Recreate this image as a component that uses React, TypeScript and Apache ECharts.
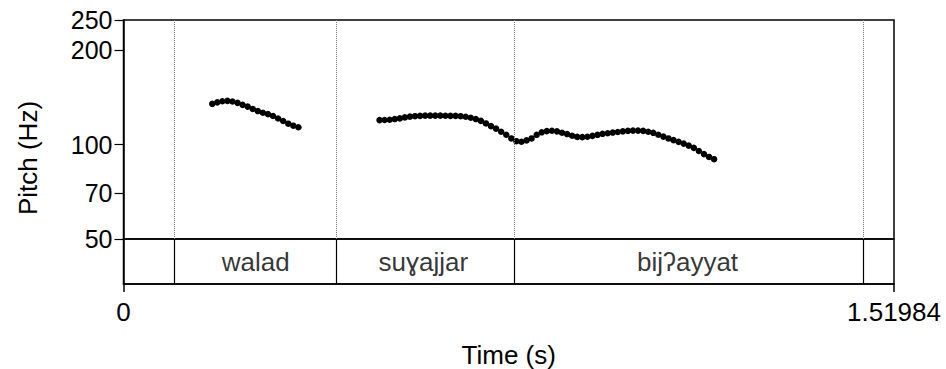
import React, { useEffect, useRef } from "react";
import * as echarts from "echarts";

const TOTAL_DURATION = 1.51984;
const PITCH_MIN = 50;
const PITCH_MAX = 250;
const PITCH_TICKS = [50, 70, 100, 200, 250];
const TIME_TICKS = [0, 1.51984];
const TIME_TICK_LABELS = ["0", "1.51984"];
const WORD_BOUNDARIES = [0.1045, 0.417, 0.766, 1.459];
const WORDS = ["walad", "suɣajjar", "bijʔayyat"];
const WORD_STARTS = [0.1045, 0.417, 0.766];
const WORD_ENDS = [0.417, 0.766, 1.459];

// pitch contour, segment 1 (walad)
const SEG1_TIMES = [
  0.175, 0.185, 0.195, 0.205, 0.215, 0.225, 0.235, 0.245, 0.255, 0.265, 0.275,
  0.285, 0.295, 0.305, 0.315, 0.325, 0.335, 0.345,
];
const SEG1_HZ = [
  135, 136.5, 137.6, 138, 137.3, 136, 134, 132.3, 130, 128, 126.5, 125.2, 123.5,
  121.2, 119, 116.7, 115, 113.7,
];

// pitch contour, segment 2 (suɣajjar + bijʔayyat)
const SEG2_TIMES = [
  0.505, 0.515, 0.525, 0.535, 0.545, 0.555, 0.565, 0.575, 0.585, 0.595, 0.605,
  0.615, 0.625, 0.635, 0.645, 0.655, 0.665, 0.675, 0.685, 0.695, 0.705, 0.715,
  0.725, 0.735, 0.745, 0.755, 0.765, 0.775, 0.785, 0.795, 0.805, 0.815, 0.825,
  0.835, 0.845, 0.855, 0.865, 0.875, 0.885, 0.895, 0.905, 0.915, 0.925, 0.935,
  0.945, 0.955, 0.965, 0.975, 0.985, 0.995, 1.005, 1.015, 1.025, 1.035, 1.045,
  1.055, 1.065, 1.075, 1.085, 1.095, 1.105, 1.115, 1.125, 1.135, 1.145, 1.155,
  1.165,
];
const SEG2_HZ = [
  119.8, 119.9, 120.1, 120.7, 121.3, 122.2, 122.9, 123.3, 123.6, 123.8, 123.8,
  123.8, 123.8, 123.7, 123.6, 123.6, 123.3, 122.8, 121.9, 120.7, 119.1, 116.9,
  114.6, 112.5, 110.0, 107.6, 104.7, 102.6, 102.2, 103.2, 104.7, 107.5, 109.5,
  110.5, 110.8, 110.3, 109.2, 108.1, 106.8, 105.9, 105.7, 106.0, 106.7, 107.5,
  108.3, 108.8, 109.3, 109.8, 110.3, 110.7, 110.9, 110.9, 110.7, 110.0, 109.1,
  107.6, 106.1, 104.7, 103.4, 102.1, 100.8, 99.3, 97.7, 95.5, 93.3, 91.4, 89.9,
];

const FONT = "'Liberation Sans', Arial, Helvetica, sans-serif";

export default function App() {
  const ref = useRef<HTMLDivElement>(null);

  useEffect(() => {
    document.body.style.margin = "0";
    if (!ref.current) return;
    const chart = echarts.init(ref.current, undefined, { renderer: "svg" });

    const pitchData = [
      ...SEG1_TIMES.map((t, i) => [t, SEG1_HZ[i]]),
      ...SEG2_TIMES.map((t, i) => [t, SEG2_HZ[i]]),
    ];

    const wordData = WORDS.map((w, i) => ({
      value: [(WORD_STARTS[i] + WORD_ENDS[i]) / 2, 0.5],
      name: w,
    }));

    const left = 123.5;
    const width = 770.5;

    chart.setOption({
      animation: false,
      backgroundColor: "#fff",
      textStyle: { fontFamily: FONT },
      grid: [
        {
          left,
          top: 20,
          width,
          height: 219,
          show: true,
          borderColor: "#000",
          borderWidth: 1.5,
          containLabel: false,
        },
        {
          left,
          top: 239,
          width,
          height: 55,
          show: true,
          borderColor: "#000",
          borderWidth: 1.5,
          containLabel: false,
        },
      ],
      xAxis: [
        {
          gridIndex: 0,
          type: "value",
          min: 0,
          max: TOTAL_DURATION,
          show: false,
        },
        {
          gridIndex: 1,
          type: "value",
          min: 0,
          max: TOTAL_DURATION,
          position: "bottom",
          axisLine: { show: true, lineStyle: { color: "#000", width: 1.5 } },
          axisTick: {
            show: true,
            length: 8,
            customValues: TIME_TICKS,
            lineStyle: { color: "#000", width: 1.5 },
          },
          axisLabel: {
            show: true,
            customValues: TIME_TICKS,
            formatter: (v: number) =>
              TIME_TICK_LABELS[TIME_TICKS.findIndex((t) => Math.abs(t - v) < 1e-6)] ?? "",
            fontSize: 26,
            color: "#000",
            fontFamily: FONT,
            margin: 15,
          },
          splitLine: { show: false },
          name: "Time (s)",
          nameLocation: "middle",
          nameGap: 58,
          nameTextStyle: { fontSize: 26, color: "#000", fontFamily: FONT },
        },
      ],
      yAxis: [
        {
          gridIndex: 0,
          type: "log",
          logBase: 10,
          min: PITCH_MIN,
          max: PITCH_MAX,
          axisLine: { show: true, lineStyle: { color: "#000", width: 1.5 } },
          axisTick: {
            show: true,
            length: 9,
            customValues: PITCH_TICKS,
            lineStyle: { color: "#000", width: 1.2 },
          },
          axisLabel: {
            show: true,
            customValues: PITCH_TICKS,
            fontSize: 25,
            color: "#000",
            fontFamily: FONT,
            margin: 11,
          },
          splitLine: { show: false },
        },
        {
          gridIndex: 1,
          type: "value",
          min: 0,
          max: 1,
          show: true,
          axisLine: { show: true, lineStyle: { color: "#000", width: 1.5 } },
          axisTick: { show: false },
          axisLabel: { show: false },
          splitLine: { show: false },
        },
      ],
      graphic: [
        {
          type: "text",
          x: 28,
          y: 158,
          rotation: Math.PI / 2,
          style: {
            text: "Pitch (Hz)",
            fontSize: 26,
            fontFamily: FONT,
            fill: "#000",
            align: "center",
            verticalAlign: "middle",
          },
        },
      ],
      series: [
        {
          type: "scatter",
          xAxisIndex: 0,
          yAxisIndex: 0,
          data: pitchData,
          symbol: "circle",
          symbolSize: 6.5,
          itemStyle: { color: "#000", opacity: 1 },
          silent: true,
          markLine: {
            silent: true,
            symbol: "none",
            label: { show: false },
            lineStyle: { type: "dotted", color: "#777", width: 1 },
            data: WORD_BOUNDARIES.map((b) => ({ xAxis: b })),
          },
        },
        {
          type: "scatter",
          xAxisIndex: 1,
          yAxisIndex: 1,
          data: wordData,
          symbolSize: 0,
          silent: true,
          label: {
            show: true,
            position: "inside",
            formatter: (p: any) => p.name,
            fontSize: 26,
            color: "#000",
            fontFamily: FONT,
          },
          markLine: {
            silent: true,
            symbol: "none",
            label: { show: false },
            lineStyle: { type: "solid", color: "#000", width: 1.2 },
            data: WORD_BOUNDARIES.map((b) => ({ xAxis: b })),
          },
        },
      ],
    });

    return () => chart.dispose();
  }, []);

  return <div ref={ref} style={{ width: 946, height: 369 }} />;
}
